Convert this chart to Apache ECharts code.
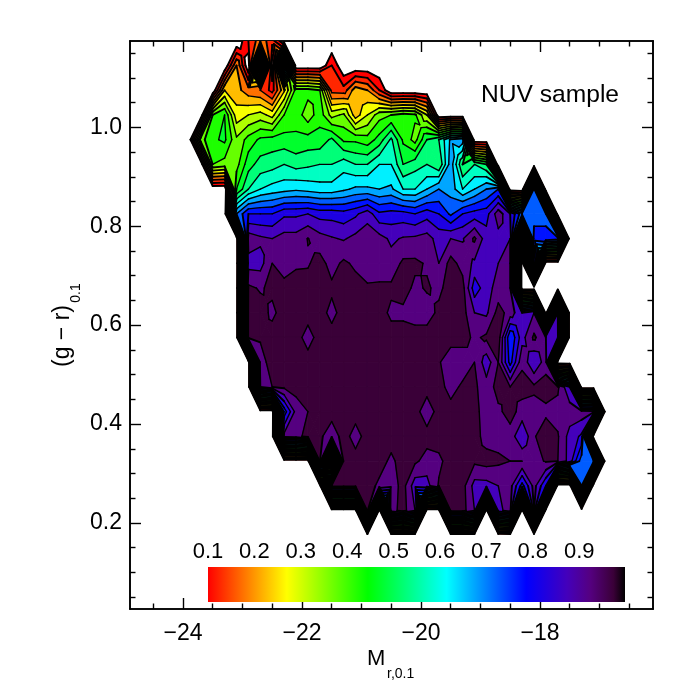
<!DOCTYPE html>
<html><head><meta charset="utf-8">
<style>html,body{margin:0;padding:0;background:#fff}#c{width:692px;height:692px}</style>
<script src="https://cdn.jsdelivr.net/npm/echarts@6/dist/echarts.min.js"></script>
</head><body><div id="c"></div>
<script>
// Node positions of the binned grid
const magnitudes = [-23.9,-23.7,-23.5,-23.3,-23.1,-22.9,-22.7,-22.5,-22.3,-22.1,-21.9,-21.7,-21.5,-21.3,-21.1,-20.9,-20.7,-20.5,-20.3,-20.1,-19.9,-19.7,-19.5,-19.3,-19.1,-18.9,-18.7,-18.5,-18.3,-18.1,-17.9,-17.7,-17.5,-17.3,-17.1,-16.9];
const colours = [1.175,1.125,1.075,1.025,0.975,0.925,0.875,0.825,0.775,0.725,0.675,0.625,0.575,0.525,0.475,0.425,0.375,0.325,0.275,0.225,0.175];
// Fraction values (percent) per colour row, left to right; missing trailing nodes are empty (0)
const r00=[0,0,0,0,0,10,18,12];
const r01=[0,0,0,0,20,0,88,0,80,0,0,0,10];
const r02=[0,0,0,25,22,17,15,8,24,42,42,40,13,12,23,20,10];
const r03=[0,0,40,45,27,30,32,28,40,43,37,43,33,36,22,30,38,40,42,41,30];
const r04=[0,38,44,46,36,42,46,47,47,46,47,47,51,44,44,42,47,56,44,38,50,55,66,68];
const r05=[0,0,40,38,38,48,52,53,55,53,54,55,55,58,55,55,60,60,50,53,55,50,68,50,55,50];
const r06=[0,0,0,0,45,55,60,62,63,64,63,62,62,64,66,66,65,66,60,60,65,70,68,60,65,70,75,0,0,72];
const r07=[0,0,0,0,70,80,80,80,84,84,85,83,83,82,84,88,81,82,82,80,83,80,74,80,82,83,93,85,72,72,70];
const r08=[0,0,0,0,0,93,91,90,92,92,95.2,92,90.5,89.5,91.5,93,92,89,90.5,91,92,88,90,89.5,96,87,88,90,0,78,80,78];
const r09=[0,0,0,0,0,88,88,95,93.5,94,94.5,97,93,96,94,93,92,92,96,96,94.5,90,97,93,89,89,90,90,0,85];
const r10=[0,0,0,0,0,96,94.5,96,96,98,97,97,96,97,97,95.5,96,96,97,94,95.5,94,97,97,82,88,92,90];
const r11=[0,0,0,0,0,97,97,94,97,97,97,97,93.5,97,97,97,97,94,94,93,93,96,97,97,90,89,97,93,85,90,0,85];
const r12=[0,0,0,0,0,97,95.5,97,97,97,93,97,97,97,97,97,97,97,97,97,97,97,97,97,94,96,98,75,88,96,90,86];
const r13=[0,0,0,0,0,0,93,97,97,97,97,97,97,97,97,97,97,97,97,97,97,95.5,92,92,95,87,95,78,94,85,93];
const r14=[0,0,0,0,0,0,90,95,96,97,97,97,97,97,97,97,97,97,97,97,97,97,93,96,96,92,97,95,97,96,97,96,85];
const r15=[0,0,0,0,0,0,0,0,77,92,95,97,97,97,97,97,97,97,97,97,92,97,97,97,97,92,94,97,93,93,94,93,93,93,92];
const r16=[0,0,0,0,0,0,0,0,92,93,97,96,92,97,93,97,97,97,97,97,97,97,97,97,97,93,93,93,85,94.5,98,95.5,88,84];
const r17=[0,0,0,0,0,0,0,0,0,0,0,96,0,97,97,97,97,94,97,96,93,94,97,97,96,97,96,95,95,93,95.5,95,88,72,72];
const r18=[0,0,0,0,0,0,0,0,0,0,0,0,97,97,97,97,94,92,97,87,88,95.5,97,97,88,88,90,92,78,92,80,0,0,70];
const r19=[0,0,0,0,0,0,0,0,0,0,0,0,0,0,0,97,0,93,97,90,0,0,97,97,90,0,88,93,0,90];
const r20=[];
const rows=[r00,r01,r02,r03,r04,r05,r06,r07,r08,r09,r10,r11,r12,r13,r14,r15,r16,r17,r18,r19,r20];
// Contour levels (percent) and colour ramp
const levels=[5,10,15,20,25,30,35,40,45,50,55,60,65,70,75,80,85,90,95];
const rampValues=[10,27,44.5,61.5,78.7,87.5,92.5,97.5,100];
const rampColours=['#ff0000','#ffff00','#00ff00','#00ffff','#0000ff','#4400bb','#550080','#3a0038','#000000'];
const barLabels=['0.1','0.2','0.3','0.4','0.5','0.6','0.7','0.8','0.9'];
const xMajor=[-24,-22,-20,-18];
const xMinor=[-24.5,-23.5,-23,-22.5,-21.5,-21,-20.5,-19.5,-19,-18.5,-17.5,-17,-16.5];
const yMajor=[0.2,0.4,0.6,0.8,1.0];
const yMinor=[0.05,0.1,0.15,0.25,0.3,0.35,0.45,0.5,0.55,0.65,0.7,0.75,0.85,0.9,0.95,1.05,1.1,1.15];

const FONT='"Liberation Sans",Arial,sans-serif';
const val=(i,j)=>rows[j][i]||0;
function hex(c){return [1,3,5].map(k=>parseInt(c.substr(k,2),16));}
function ramp(v){
  if(v<=rampValues[0])return rampColours[0];
  for(let k=1;k<rampValues.length;k++){
    if(v<=rampValues[k]){
      const t=(v-rampValues[k-1])/(rampValues[k]-rampValues[k-1]);
      const a=hex(rampColours[k-1]),b=hex(rampColours[k]);
      return 'rgb('+a.map((x,n)=>Math.round(x+(b[n]-x)*t)).join(',')+')';
    }
  }
  return rampColours[rampColours.length-1];
}
function clip(poly,L,above){
  const out=[];
  for(let k=0;k<poly.length;k++){
    const p=poly[k],q=poly[(k+1)%poly.length];
    const pin=above?p[2]>=L:p[2]<=L, qin=above?q[2]>=L:q[2]<=L;
    if(pin)out.push(p);
    if(pin!==qin){
      const t=(L-p[2])/(q[2]-p[2]);
      out.push([p[0]+(q[0]-p[0])*t,p[1]+(q[1]-p[1])*t,L]);
    }
  }
  return out;
}
function cellCorners(i,j){
  return [[magnitudes[i],colours[j],val(i,j)],[magnitudes[i+1],colours[j],val(i+1,j)],
          [magnitudes[i+1],colours[j+1],val(i+1,j+1)],[magnitudes[i],colours[j+1],val(i,j+1)]];
}
// A saddle cell is divided round its centre so that its contours stay unambiguous
function subPolys(q){
  const a=q[0][2],b=q[1][2],c=q[2][2],d=q[3][2];
  const saddle=(Math.min(a,c)>Math.max(b,d))||(Math.min(b,d)>Math.max(a,c));
  if(!saddle)return [q];
  const m=[(q[0][0]+q[2][0])/2,(q[0][1]+q[2][1])/2,(a+b+c+d)/4];
  return q.map((p,k)=>[p,q[(k+1)%4],m]);
}
const cells=[];
for(let j=0;j<colours.length-1;j++)for(let i=0;i<magnitudes.length-1;i++){
  if(val(i,j)||val(i+1,j)||val(i,j+1)||val(i+1,j+1))cells.push([magnitudes[i],colours[j],i,j]);
}
function renderFill(params,api){
  const i=api.value(2),j=api.value(3),children=[];
  subPolys(cellCorners(i,j)).forEach(q=>{
    for(let k=0;k<levels.length;k++){
      const lo=levels[k],hi=k+1<levels.length?levels[k+1]:1000;
      let p=clip(q,lo,true); if(p.length<3)continue;
      p=clip(p,hi,false); if(p.length<3)continue;
      const col=ramp(lo+2.5);
      children.push({type:'polygon',shape:{points:p.map(a=>api.coord([a[0],a[1]]))},
        style:{fill:col,stroke:col,lineWidth:1}});
    }
  });
  return {type:'group',children};
}
function renderLines(params,api){
  const i=api.value(2),j=api.value(3),corners=cellCorners(i,j),children=[];
  const edgeCell=corners.some(c=>c[2]===0);
  subPolys(corners).forEach(q=>{
    levels.forEach(L=>{
      const pts=[];
      for(let k=0;k<q.length;k++){
        const a=q[k],b=q[(k+1)%q.length];
        if((a[2]<L)!==(b[2]<L)){
          const t=(L-a[2])/(b[2]-a[2]);
          pts.push([a[0]+(b[0]-a[0])*t,a[1]+(b[1]-a[1])*t]);
        }
      }
      if(pts.length===2){
        const u=api.coord(pts[0]),v=api.coord(pts[1]);
        children.push({type:'line',shape:{x1:u[0],y1:u[1],x2:v[0],y2:v[1]},
          style:{stroke:'#000',lineWidth:edgeCell?1.9:1.4,lineCap:'round'}});
      }
    });
  });
  return {type:'group',children};
}
const axisLine={show:true,onZero:false,lineStyle:{color:'#000',width:1.6}};
const xExt={type:'value',min:-24.89,max:-16.10,splitLine:{show:false}};
const yExt={type:'value',min:0.026,max:1.1745,splitLine:{show:false}};
const lab={fontFamily:FONT,fontSize:23,color:'#000'};
const tick=(len,vals)=>({show:true,inside:true,length:len,customValues:vals,lineStyle:{color:'#000',width:1.4}});
const off={show:false};
const barX0=208,barW=417,barStep=46.4;
const chart=echarts.init(document.getElementById('c'),null,{renderer:'canvas'});
chart.setOption({
  animation:false,backgroundColor:'#fff',
  grid:{left:130,right:39,top:41,bottom:83,containLabel:false},
  xAxis:[
    Object.assign({position:'bottom',axisLine,axisTick:tick(11,xMajor),
      axisLabel:Object.assign({show:true,margin:13,customValues:xMajor,formatter:v=>'\u2212'+Math.abs(v)},lab)},xExt),
    Object.assign({position:'top',axisLine,axisTick:tick(11,xMajor),axisLabel:off},xExt),
    Object.assign({position:'bottom',axisLine,axisTick:tick(5.5,xMinor),axisLabel:off},xExt),
    Object.assign({position:'top',axisLine,axisTick:tick(5.5,xMinor),axisLabel:off},xExt)
  ],
  yAxis:[
    Object.assign({position:'left',axisLine,axisTick:tick(11,yMajor),
      axisLabel:Object.assign({show:true,margin:8,customValues:yMajor,formatter:v=>v.toFixed(1)},lab)},yExt),
    Object.assign({position:'right',axisLine,axisTick:tick(11,yMajor),axisLabel:off},yExt),
    Object.assign({position:'left',axisLine,axisTick:tick(5.5,yMinor),axisLabel:off},yExt),
    Object.assign({position:'right',axisLine,axisTick:tick(5.5,yMinor),axisLabel:off},yExt)
  ],
  series:[
    {type:'custom',name:'fill',coordinateSystem:'cartesian2d',xAxisIndex:0,yAxisIndex:0,clip:true,z:2,silent:true,data:cells,encode:{x:0,y:1},renderItem:renderFill},
    {type:'custom',name:'contours',coordinateSystem:'cartesian2d',xAxisIndex:0,yAxisIndex:0,clip:true,z:3,silent:true,data:cells,encode:{x:0,y:1},renderItem:renderLines}
  ],
  graphic:[
    {type:'rect',left:barX0,top:567,z:10,shape:{width:barW,height:35},style:{fill:new echarts.graphic.LinearGradient(0,0,1,0,
      rampValues.map((v,k)=>({offset:(v-10)/90,color:rampColours[k]})))}},
    ...barLabels.map((t,k)=>({type:'text',z:10,x:barX0+barStep*k,y:552,style:{text:t,fontFamily:FONT,fontSize:22,fill:'#000',align:'center',verticalAlign:'middle'}})),
    {type:'text',z:10,x:481,y:95,style:{text:'NUV sample',fontFamily:FONT,fontSize:24.6,fill:'#000',align:'left',verticalAlign:'middle'}},
    {type:'text',z:10,x:367,y:659,style:{text:'M',fontFamily:FONT,fontSize:22,fill:'#000',align:'left',verticalAlign:'middle'}},
    {type:'text',z:10,x:387,y:674,style:{text:'r,0.1',fontFamily:FONT,fontSize:14,fill:'#000',align:'left',verticalAlign:'middle'}},
    {type:'text',z:10,x:63,y:336,rotation:Math.PI/2,style:{text:'(g \u2212 r)',fontFamily:FONT,fontSize:23,fill:'#000',align:'center',verticalAlign:'middle'}},
    {type:'text',z:10,x:76,y:293,rotation:Math.PI/2,style:{text:'0.1',fontFamily:FONT,fontSize:14,fill:'#000',align:'center',verticalAlign:'middle'}}
  ]
});
</script></body></html>
